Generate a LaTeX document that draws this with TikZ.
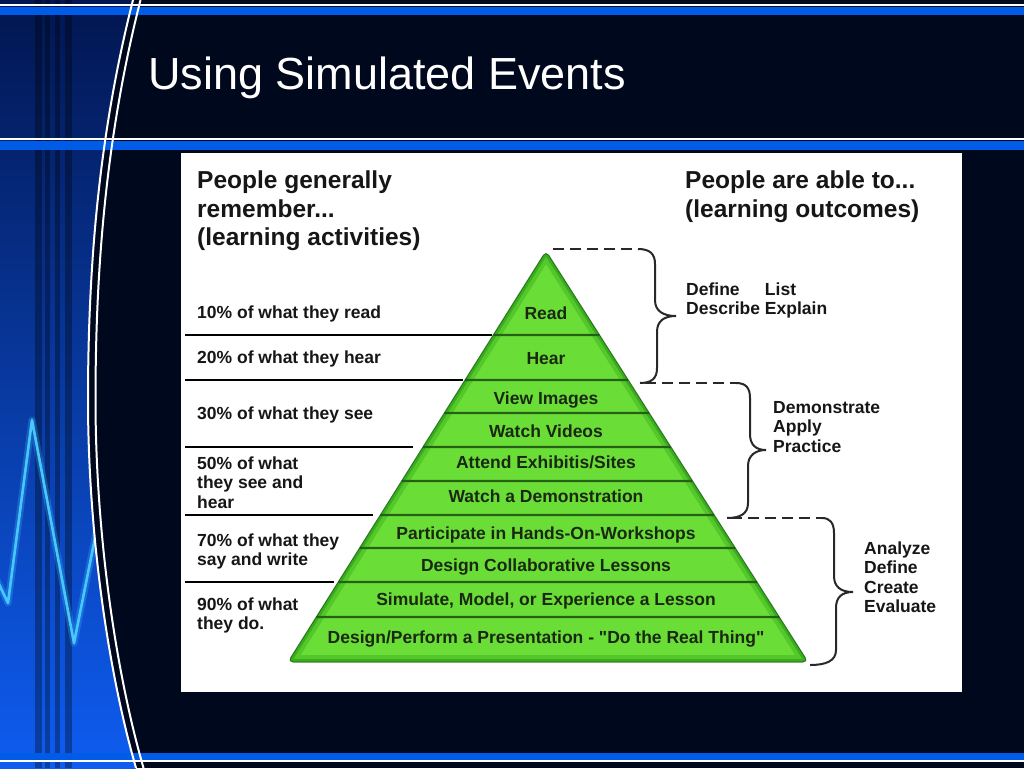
\documentclass[tikz,border=0pt]{standalone}
\usepackage{fontspec}
\setmainfont{Liberation Sans}[Ligatures=TeXOff]
\usetikzlibrary{calc}
\definecolor{navy}{RGB}{0,8,30}
\definecolor{bandblue}{RGB}{0,92,230}
\definecolor{zig}{RGB}{70,200,255}
\definecolor{pgreen}{RGB}{106,222,54}
\definecolor{sepgreen}{RGB}{38,96,22}
\definecolor{txt}{RGB}{22,22,22}
\definecolor{ptxt}{RGB}{26,40,18}
\definecolor{bracegray}{RGB}{40,40,40}
\newcommand\mlines[1]{\begin{tabular}[t]{@{}l@{}}#1\end{tabular}}
\tikzset{
  lbl/.style={font=\bfseries\fontsize{17.5}{19.6}\selectfont, text=txt, inner sep=0, anchor=base west},
  plbl/.style={font=\bfseries\fontsize{17.5}{21}\selectfont, text=ptxt, inner sep=0, anchor=base},
  hdr/.style={font=\bfseries\fontsize{24.5}{28.5}\selectfont, text=txt, inner sep=0, anchor=base west},
  leftline/.style={line width=2.8, black},
  sepline/.style={line width=2.2, sepgreen},
  dashline/.style={line width=2.8, bracegray, dash pattern=on 11pt off 6pt},
  bracestyle/.style={line width=2, bracegray},
  curveline/.style={white, line width=2},
}
\begin{document}
\begin{tikzpicture}[x=1pt,y=-1pt]
\useasboundingbox (0,0) rectangle (1024,768);
\fill[navy] (0,0) rectangle (1024,768);
% left blue region
\begin{scope}
\clip (0,-5) -- (133,-5) -- (133,0) .. controls (100,130) and (88,260) .. (88,400) .. controls (88,520) and (105,660) .. (136,768) -- (136,775) -- (0,775) -- cycle;
\shade[top color={rgb,255:red,2;green,22;blue,80}, middle color={rgb,255:red,8;green,58;blue,200}, bottom color={rgb,255:red,14;green,92;blue,240}] (0,0) rectangle (150,768);
\foreach \a/\b in {35/42,45/50,55/60,65/72}
  \fill[black,opacity=0.32] (\a,0) rectangle (\b,768);
\coordinate (z0) at (-4,578);
\coordinate (z1) at (8,603);
\coordinate (z2) at (32,420);
\coordinate (z3) at (74,643);
\coordinate (z4) at (97,528);
\coordinate (z5) at (118,430);
\draw[zig, line width=7, opacity=0.25, line join=round] (z0) -- (z1) -- (z2) -- (z3) -- (z4) -- (z5);
\draw[zig, line width=2.6, line join=round] (z0) -- (z1) -- (z2) -- (z3) -- (z4) -- (z5);
\end{scope}
% bands
\fill[white] (0,4.5) rectangle (1024,6.5);
\fill[bandblue] (0,7) rectangle (1024,15);
\fill[white] (0,137.5) rectangle (1024,139.5);
\fill[bandblue] (0,141) rectangle (1024,150);
\fill[bandblue] (0,752.5) rectangle (1024,760);
\fill[white] (0,760) rectangle (1024,762);
% double curve
\draw[curveline] (133,0) .. controls (100,130) and (88,260) .. (88,400) .. controls (88,520) and (105,660) .. (136,768);
\draw[curveline] (140.5,0) .. controls (107.5,130) and (95.5,260) .. (95.5,400) .. controls (95.5,520) and (112.5,660) .. (143.5,768);
% title
\node[anchor=base west, inner sep=0, text=white, font=\fontsize{45}{54}\selectfont] (title) at (148,89) {Using Simulated Events};
% panel
\fill[white] (181,153) rectangle (962,692);
% headers
\node[hdr] (h1) at (197,188.5) {\mlines{People generally\\remember...\\(learning activities)}};
\node[hdr] (h2) at (685,188.5) {\mlines{People are able to...\\(learning outcomes)}};
% left separator lines
\foreach \i/\y/\e in {1/335/492,2/380/463,3/447/413,4/515/373,5/582/334}{
  \coordinate (ls\i) at (185,\y);
  \coordinate (le\i) at (\e,\y);
  \draw[leftline] (ls\i) -- (le\i);
}
% pyramid
\coordinate (apex) at (546,251);
\coordinate (bl) at (288,662);
\coordinate (br) at (808,662);
\foreach \s/\o in {8/0.06,6/0.08,4/0.12}
  \fill[black,opacity=\o,rounded corners=6,shift={(2,\s)}] (apex) -- (br) -- (bl) -- cycle;
\fill[pgreen,rounded corners=5] (apex) -- (br) -- (bl) -- cycle;
\begin{scope}
\clip[rounded corners=5] (apex) -- (br) -- (bl) -- cycle;
\draw[line width=14, green!45!black, opacity=0.2, rounded corners=5] (apex) -- (br) -- (bl) -- cycle;
\draw[line width=6, green!40!black, opacity=0.28, rounded corners=5] (apex) -- (br) -- (bl) -- cycle;
\foreach \y in {335,380,413,447,481,515,548,582,617}
  \draw[sepline] (intersection of apex--bl and 0,\y--1,\y) -- (intersection of apex--br and 0,\y--1,\y);
\end{scope}
\draw[line width=1, green!30!black, opacity=0.6, rounded corners=5] (apex) -- (br) -- (bl) -- cycle;
% pyramid labels
\node[plbl] (p1) at (546,319) {Read};
\node[plbl] (p2) at (546,364) {Hear};
\node[plbl] (p3) at (546,404) {View Images};
\node[plbl] (p4) at (546,437) {Watch Videos};
\node[plbl] (p5) at (546,468) {Attend Exhibitis/Sites};
\node[plbl] (p6) at (546,502) {Watch a Demonstration};
\node[plbl] (p7) at (546,539) {Participate in Hands-On-Workshops};
\node[plbl] (p8) at (546,571) {Design Collaborative Lessons};
\node[plbl] (p9) at (546,605) {Simulate, Model, or Experience a Lesson};
\node[plbl] (p10) at (546,643) {Design/Perform a Presentation - "Do the Real Thing"};
% left labels
\node[lbl] (l10) at (197,318) {10\% of what they read};
\node[lbl] (l20) at (197,363) {20\% of what they hear};
\node[lbl] (l30) at (197,419) {30\% of what they see};
\node[lbl] (l50) at (197,469) {\mlines{50\% of what\\they see and\\hear}};
\node[lbl] (l70) at (197,546) {\mlines{70\% of what they\\say and write}};
\node[lbl] (l90) at (197,610) {\mlines{90\% of what\\they do.}};
% dashed lines and braces
\coordinate (d1) at (553,249);
\coordinate (b1a) at (638,249);
\coordinate (b1tip) at (676,316);
\coordinate (b1b) at (640,383);
\coordinate (d2) at (645,383);
\coordinate (b2a) at (736,383);
\coordinate (b2tip) at (766,450);
\coordinate (b2b) at (727,518);
\coordinate (d3) at (731,518);
\coordinate (b3a) at (822,518);
\coordinate (b3tip) at (853,592);
\coordinate (b3b) at (810,665);
\draw[dashline] (d1) -- (b1a);
\draw[dashline] (d2) -- (b2a);
\draw[dashline] (d3) -- (b3a);
\draw[bracestyle] (b1a) .. controls (650,249) and (655,254) .. (655,264) -- (655,300) .. controls (655,311) and (663,316) .. (b1tip) .. controls (664,316) and (657,321) .. (657,332) -- (657,368) .. controls (657,379) and (651,383) .. (b1b);
\draw[bracestyle] (b2a) .. controls (746,383) and (750,388) .. (750,398) -- (750,434) .. controls (750,445) and (756,450) .. (b2tip) .. controls (756,450) and (748,455) .. (748,466) -- (748,503) .. controls (748,514) and (740,518) .. (b2b);
\draw[bracestyle] (b3a) .. controls (830,518) and (834,523) .. (834,533) -- (834,576) .. controls (834,587) and (841,592) .. (b3tip) .. controls (842,592) and (836,597) .. (836,608) -- (836,650) .. controls (836,661) and (826,665) .. (b3b);
% right labels
\node[lbl] (r1) at (686,295) {\begin{tabular}[t]{@{}l@{\ }l@{}}Define & List\\Describe & Explain\end{tabular}};
\node[lbl] (r2) at (773,413) {\mlines{Demonstrate\\Apply\\Practice}};
\node[lbl] (r3) at (864,554) {\mlines{Analyze\\Define\\Create\\Evaluate}};
\end{tikzpicture}
\end{document}
